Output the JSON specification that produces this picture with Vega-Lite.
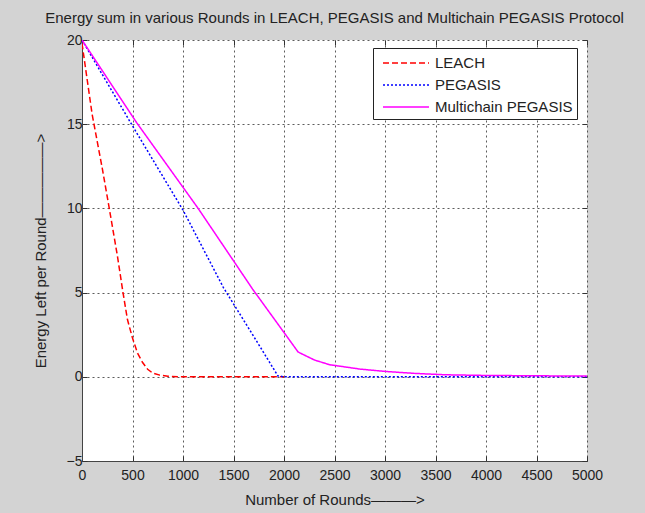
{
  "$schema": "https://vega.github.io/schema/vega-lite/v6.json",
  "width": 505,
  "height": 421,
  "autosize": {"type": "none"},
  "padding": {"left": 82, "top": 40, "right": 58, "bottom": 52},
  "background": "#d3d3d3",
  "title": {
    "text": "Energy sum in various Rounds in LEACH, PEGASIS and Multichain PEGASIS Protocol",
    "font": "Liberation Sans",
    "fontSize": 15,
    "fontWeight": "normal",
    "color": "#222",
    "anchor": "middle",
    "frame": "group",
    "baseline": "alphabetic",
    "offset": -5
  },
  "config": {
    "font": "Liberation Sans",
    "view": {"stroke": null, "fill": "#ffffff"}
  },
  "data": {
    "values": [
      {"series": "LEACH", "r": 0, "e": 19.8},
      {"series": "LEACH", "r": 100, "e": 15.6},
      {"series": "LEACH", "r": 200, "e": 12.4},
      {"series": "LEACH", "r": 270, "e": 10.0},
      {"series": "LEACH", "r": 350, "e": 7.2},
      {"series": "LEACH", "r": 406, "e": 5.0},
      {"series": "LEACH", "r": 450, "e": 3.4},
      {"series": "LEACH", "r": 500, "e": 2.3},
      {"series": "LEACH", "r": 550, "e": 1.4},
      {"series": "LEACH", "r": 600, "e": 0.85},
      {"series": "LEACH", "r": 650, "e": 0.45},
      {"series": "LEACH", "r": 700, "e": 0.22},
      {"series": "LEACH", "r": 770, "e": 0.1},
      {"series": "LEACH", "r": 850, "e": 0.03},
      {"series": "LEACH", "r": 1000, "e": 0.0},
      {"series": "LEACH", "r": 2000, "e": 0.0},
      {"series": "PEGASIS", "r": 0, "e": 20.0},
      {"series": "PEGASIS", "r": 500, "e": 14.9},
      {"series": "PEGASIS", "r": 1000, "e": 9.9},
      {"series": "PEGASIS", "r": 1400, "e": 5.3},
      {"series": "PEGASIS", "r": 1700, "e": 2.4},
      {"series": "PEGASIS", "r": 1940, "e": 0.05},
      {"series": "PEGASIS", "r": 2000, "e": 0.0},
      {"series": "PEGASIS", "r": 5000, "e": 0.0},
      {"series": "Multichain PEGASIS", "r": 0, "e": 20.0},
      {"series": "Multichain PEGASIS", "r": 540, "e": 15.1},
      {"series": "Multichain PEGASIS", "r": 1150, "e": 10.0},
      {"series": "Multichain PEGASIS", "r": 1690, "e": 5.2},
      {"series": "Multichain PEGASIS", "r": 2140, "e": 1.47},
      {"series": "Multichain PEGASIS", "r": 2300, "e": 1.0},
      {"series": "Multichain PEGASIS", "r": 2450, "e": 0.72},
      {"series": "Multichain PEGASIS", "r": 2750, "e": 0.46},
      {"series": "Multichain PEGASIS", "r": 3000, "e": 0.32},
      {"series": "Multichain PEGASIS", "r": 3300, "e": 0.2},
      {"series": "Multichain PEGASIS", "r": 3600, "e": 0.12},
      {"series": "Multichain PEGASIS", "r": 4000, "e": 0.08},
      {"series": "Multichain PEGASIS", "r": 5000, "e": 0.04}
    ]
  },
  "resolve": {"axis": {"x": "independent", "y": "independent"}},
  "layer": [
    {
      "mark": {"type": "line", "clip": true},
      "encoding": {
        "x": {
          "field": "r", "type": "quantitative",
          "scale": {"domain": [0, 5000], "nice": false, "zero": false},
          "axis": {
            "title": "Number of Rounds———>",
            "format": "d",
            "values": [0, 500, 1000, 1500, 2000, 2500, 3000, 3500, 4000, 4500, 5000],
            "grid": true, "gridDash": [2, 3], "gridColor": "#333", "gridOpacity": 0.8,
            "tickSize": -5, "tickColor": "#333",
            "domain": true, "domainColor": "#444",
            "labelFontSize": 14, "labelColor": "#222", "labelPadding": 12, "labelFlush": false,
            "titleFontSize": 15, "titleFontWeight": "normal", "titleColor": "#222", "titlePadding": 10
          }
        },
        "y": {
          "field": "e", "type": "quantitative",
          "scale": {"domain": [-5, 20], "nice": false, "zero": false},
          "axis": {
            "title": "Energy Left per Round—————>",
            "values": [-5, 0, 5, 10, 15, 20],
            "grid": true, "gridDash": [2, 3], "gridColor": "#333", "gridOpacity": 0.8,
            "tickSize": -5, "tickColor": "#333",
            "domain": true, "domainColor": "#444",
            "labelFontSize": 14, "labelColor": "#222", "labelPadding": 5,
            "titleFontSize": 15, "titleFontWeight": "normal", "titleColor": "#222", "titlePadding": 18
          }
        },
        "color": {
          "field": "series", "type": "nominal",
          "scale": {"domain": ["LEACH", "PEGASIS", "Multichain PEGASIS"], "range": ["#ff0000", "#0000ff", "#ff00ff"]},
          "legend": {
            "title": null,
            "orient": "none",
            "legendX": 291,
            "legendY": 8,
            "fillColor": "#ffffff",
            "strokeColor": "#222",
            "padding": 4,
            "symbolType": "M-2.3,0H2.3",
            "symbolSize": 400,
            "symbolStrokeWidth": 1.5,
            "symbolOffset": 18,
            "labelFontSize": 15,
            "labelColor": "#222",
            "labelOffset": 18,
            "rowPadding": 3
          }
        },
        "strokeDash": {
          "field": "series", "type": "nominal",
          "scale": {"domain": ["LEACH", "PEGASIS", "Multichain PEGASIS"], "range": [[6, 3], [2, 2], [1, 0]]},
          "legend": {
            "title": null,
            "orient": "none",
            "legendX": 291,
            "legendY": 8
          }
        },
        "strokeWidth": {
          "field": "series", "type": "nominal",
          "scale": {"domain": ["LEACH", "PEGASIS", "Multichain PEGASIS"], "range": [1.5, 1.5, 2]},
          "legend": null
        }
      }
    },
    {
      "mark": {"type": "line", "opacity": 0},
      "encoding": {
        "x": {
          "field": "r", "type": "quantitative",
          "axis": {
            "orient": "top", "title": null, "labels": false, "grid": false, "domain": false,
            "values": [0, 500, 1000, 1500, 2000, 2500, 3000, 3500, 4000, 4500, 5000],
            "tickSize": -5, "tickColor": "#333"
          }
        },
        "y": {
          "field": "e", "type": "quantitative",
          "axis": {
            "orient": "right", "title": null, "labels": false, "grid": false, "domain": false,
            "values": [-5, 0, 5, 10, 15, 20],
            "tickSize": -5, "tickColor": "#333"
          }
        }
      }
    }
  ]
}
